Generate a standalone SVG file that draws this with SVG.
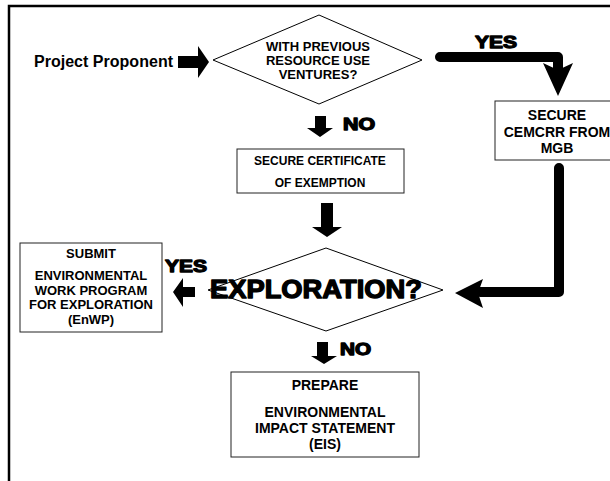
<svg xmlns="http://www.w3.org/2000/svg" width="610" height="481" viewBox="0 0 610 481">
<style>
.t{font-family:"Liberation Sans",Arial,sans-serif;font-weight:bold;fill:#000;text-anchor:middle}
.h{font-family:"Liberation Sans",Arial,sans-serif;font-weight:bold;fill:#000;stroke:#000;stroke-width:1.3;stroke-linejoin:round}
.box{fill:#fff;stroke:#222;stroke-width:1}
.dia{fill:#fff;stroke:#000;stroke-width:1}
.fat{fill:#000}
.conn{fill:none;stroke:#000;stroke-width:10;stroke-linecap:round;stroke-linejoin:round}
</style>
<rect width="610" height="481" fill="#fff"/>
<path d="M9,481 V6 H610" fill="none" stroke="#000" stroke-width="2.5"/>

<g id="proponent">
<text class="t" x="34" y="67" font-size="16" style="text-anchor:start" textLength="139">Project Proponent</text>
</g>

<g id="q1">
<polygon class="dia" points="213,60 319,15 422,60 319,104"/>
<text class="t" x="318" y="51" font-size="13">WITH PREVIOUS</text>
<text class="t" x="318" y="65" font-size="13">RESOURCE USE</text>
<text class="t" x="318" y="79" font-size="13">VENTURES?</text>
</g>

<g id="cemcrr">
<rect class="box" x="495" y="101" width="130" height="59"/>
<text class="t" x="557" y="120" font-size="14">SECURE</text>
<text class="t" x="557" y="137" font-size="14">CEMCRR FROM</text>
<text class="t" x="557" y="153" font-size="14">MGB</text>
</g>

<g id="certificate">
<rect class="box" x="237" y="149" width="167" height="44"/>
<text class="t" x="320" y="165" font-size="12">SECURE CERTIFICATE</text>
<text class="t" x="320" y="187" font-size="12">OF EXEMPTION</text>
</g>

<g id="q2">
<polygon class="dia" points="208,290 326,248 443,290 326,331"/>
<text class="h" x="210" y="298" font-size="25" textLength="212" lengthAdjust="spacingAndGlyphs">EXPLORATION?</text>
</g>

<g id="enwp">
<rect class="box" x="20" y="243" width="142" height="89"/>
<text class="t" x="91" y="258" font-size="13">SUBMIT</text>
<text class="t" x="91" y="280" font-size="13">ENVIRONMENTAL</text>
<text class="t" x="91" y="295" font-size="13">WORK PROGRAM</text>
<text class="t" x="91" y="309" font-size="13">FOR EXPLORATION</text>
<text class="t" x="91" y="324" font-size="13">(EnWP)</text>
</g>

<g id="eis">
<rect class="box" x="231" y="372" width="188" height="85"/>
<text class="t" x="325" y="390" font-size="14">PREPARE</text>
<text class="t" x="325" y="417" font-size="14">ENVIRONMENTAL</text>
<text class="t" x="325" y="433" font-size="14">IMPACT STATEMENT</text>
<text class="t" x="325" y="449" font-size="14">(EIS)</text>
</g>

<g id="connectors">
<polygon class="fat" points="178,56 198,56 198,46 209,62 198,78 198,68 178,68"/>
<path class="conn" d="M440,57 H558 V68"/>
<polygon class="fat" points="543,63 558,70 573,63 558,96"/>
<text class="h" x="475" y="48" font-size="17" textLength="42" lengthAdjust="spacingAndGlyphs">YES</text>
<polygon class="fat" points="315,116 326,116 326,128 333,128 320,137 307,128 315,128"/>
<text class="h" x="343" y="130" font-size="16" textLength="32" lengthAdjust="spacingAndGlyphs">NO</text>
<polygon class="fat" points="321,203 333,203 333,227 342,227 327,237 312,227 321,227"/>
<path class="conn" d="M559,168 V292 H480"/>
<polygon class="fat" points="455,293 483,279 478,293 483,308"/>
<polygon class="fat" points="195,287 195,297 183,297 183,307 173,292 183,278 183,287"/>
<text class="h" x="165" y="272" font-size="17" textLength="42" lengthAdjust="spacingAndGlyphs">YES</text>
<polygon class="fat" points="317,342 328,342 328,356 337,356 324,364 311,356 317,356"/>
<text class="h" x="340" y="355" font-size="16" textLength="31" lengthAdjust="spacingAndGlyphs">NO</text>
</g>
</svg>
